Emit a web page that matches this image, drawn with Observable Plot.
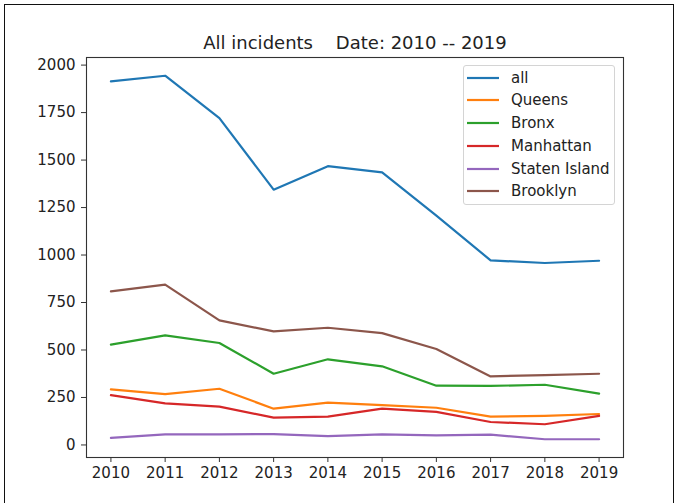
<!DOCTYPE html>
<html>
<head>
<meta charset="utf-8">
<script src="https://cdn.jsdelivr.net/npm/d3@7"></script>
<script src="https://cdn.jsdelivr.net/npm/@observablehq/plot@0.6"></script>
<style>
  html, body { margin: 0; padding: 0; background: #fff; }
  #wrap { position: relative; width: 678px; height: 503px; overflow: hidden; font-family: "DejaVu Sans", sans-serif; }
  #border { position: absolute; left: 4px; top: 4px; width: 670px; height: 600px; border: 1.5px solid #111; border-bottom: none; box-sizing: border-box; }
  #chart { position: absolute; left: 0; top: 0; }
  #chart svg text { white-space: pre; }
  #legend { position: absolute; left: 463px; top: 65px; width: 152px; height: 140px; box-sizing: border-box;
            border: 1px solid #d4d4d4; border-radius: 3px; background: rgba(255,255,255,0.8); }
  .row { position: absolute; left: 0; height: 20px; display: flex; align-items: center; font-size: 15px; color: #222; }
  .row svg { position: absolute; left: 3px; top: 0; }
  .row span { position: absolute; left: 47px; white-space: nowrap; line-height: 20px; top: 0; }
</style>
</head>
<body>
<div id="wrap">
  <div id="border"></div>
  <div id="chart"></div>
  <div id="legend"></div>
</div>
<script>
// Yearly incident counts, overall and by borough
const years = [2010, 2011, 2012, 2013, 2014, 2015, 2016, 2017, 2018, 2019];
const allIncidents = [1914, 1944, 1721, 1344, 1468, 1435, 1207, 972, 958, 970];
const queens       = [293, 268, 296, 191, 223, 210, 196, 149, 153, 163];
const bronx        = [528, 577, 537, 375, 451, 414, 312, 311, 317, 270];
const manhattan    = [262, 219, 202, 144, 149, 191, 174, 121, 109, 153];
const statenIsland = [37, 56, 56, 57, 47, 56, 51, 54, 30, 30];
const brooklyn     = [809, 844, 656, 598, 617, 589, 505, 361, 368, 375];

const seriesNames  = ["all", "Queens", "Bronx", "Manhattan", "Staten Island", "Brooklyn"];
const seriesValues = [allIncidents, queens, bronx, manhattan, statenIsland, brooklyn];
const colors = ["#1f77b4", "#ff7f0e", "#2ca02c", "#d62728", "#9467bd", "#8c564b"];
const yTicks = [0, 250, 500, 750, 1000, 1250, 1500, 1750, 2000];
const titleText = "All incidents    Date: 2010 -- 2019";

const rows = seriesNames.flatMap((name, i) =>
  years.map((year, j) => ({ name, year, value: seriesValues[i][j] })));

const chart = Plot.plot({
  width: 678,
  height: 503,
  marginLeft: 86,
  marginRight: 55,
  marginTop: 57,
  marginBottom: 46,
  style: { fontFamily: "DejaVu Sans, sans-serif", fontSize: "15px", color: "#222", background: "transparent" },
  x: { type: "linear", domain: [2009.55, 2019.45] },
  y: { domain: [-66, 2040] },
  color: { domain: seriesNames, range: colors },
  marks: [
    Plot.line(rows, { x: "year", y: "value", z: "name", stroke: "name", strokeWidth: 2.2, clip: true }),
    Plot.frame({ stroke: "#333", strokeWidth: 1.1 }),
    Plot.axisX({ ticks: years, tickFormat: "d", tickSize: 5, tickPadding: 5, stroke: "#333", label: null, fontSize: 15 }),
    Plot.axisY({ ticks: yTicks, tickFormat: "d", tickSize: 5, tickPadding: 6, stroke: "#333", label: null, fontSize: 15 }),
    Plot.text([titleText], { text: d => d, frameAnchor: "top", dy: -21, fontSize: 18, fill: "#222" })
  ]
});
document.getElementById("chart").appendChild(chart);

// Legend box
const legend = document.getElementById("legend");
seriesNames.forEach((name, i) => {
  const row = document.createElement("div");
  row.className = "row";
  row.style.top = (1.7 + 22.7 * i) + "px";
  row.innerHTML = `<svg width="34" height="20"><line x1="0" x2="32" y1="10" y2="10" stroke="${colors[i]}" stroke-width="2.2"/></svg><span>${name}</span>`;
  legend.appendChild(row);
});
</script>
</body>
</html>
